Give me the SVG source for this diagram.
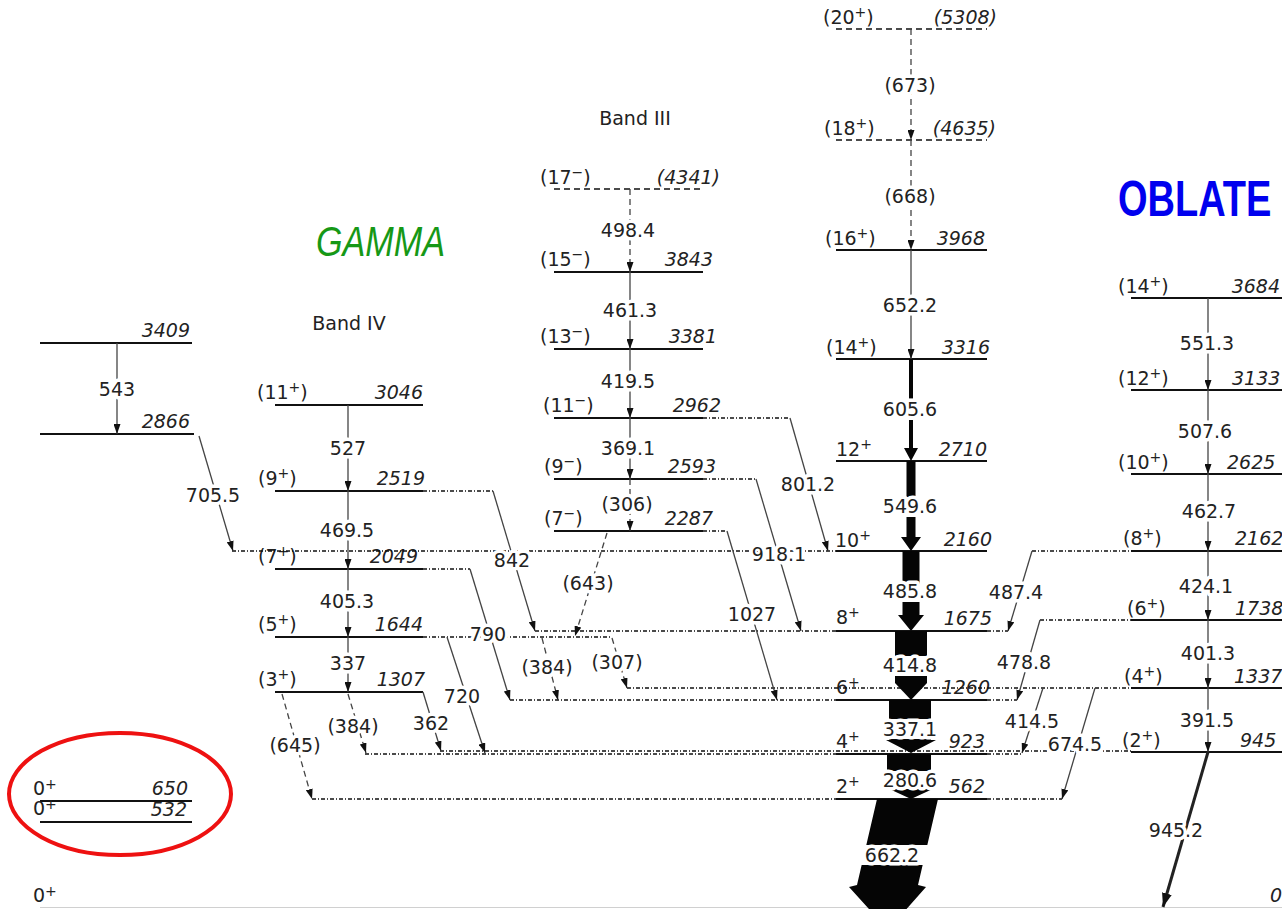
<svg xmlns="http://www.w3.org/2000/svg" width="1282" height="909" viewBox="0 0 1282 909">
<defs>
<style>
.t{font-family:"DejaVu Sans","Liberation Sans",sans-serif;font-size:19px;fill:#222}
.en{font-style:italic;text-anchor:end}
.ens{font-style:italic}
.sup{font-size:14px}
.tl{text-anchor:middle;paint-order:stroke;stroke:#fff;stroke-width:7px;stroke-linejoin:round}
.lv{stroke:#111;stroke-width:2;fill:none}
.lvd{stroke:#111;stroke-width:1.6;stroke-dasharray:6 4;fill:none}
.ex{stroke:#111;stroke-width:1.3;stroke-dasharray:4 2 1 2;fill:none}
.tr{stroke:#444;stroke-width:1.3;fill:none;marker-end:url(#ah)}
.da{stroke-dasharray:6 4}
.band{fill:#050505}
.wr{fill:#fff}
</style>
<marker id="ah" markerWidth="10" markerHeight="7" refX="10" refY="3.5" orient="auto" markerUnits="userSpaceOnUse"><path d="M0,0 L10,3.5 L0,7 z" fill="#111"/></marker>
<marker id="ah2" markerWidth="14" markerHeight="10" refX="14" refY="5" orient="auto" markerUnits="userSpaceOnUse"><path d="M0,0 L14,5 L0,10 z" fill="#111"/></marker>
</defs>
<rect width="1282" height="909" fill="#fff"/>

<!-- titles -->
<text x="316" y="256" font-family="Liberation Sans, sans-serif" font-size="42" font-style="italic" fill="#169816" textLength="129" lengthAdjust="spacingAndGlyphs">GAMMA</text>
<text transform="translate(1118,216) scale(1,1.3)" x="0" y="0" font-family="Liberation Sans, sans-serif" font-size="38" font-weight="bold" fill="#0000ee">OBLATE</text>
<text class="t" x="635" y="125" text-anchor="middle" font-size="18">Band III</text>
<text class="t" x="349" y="330" text-anchor="middle" font-size="18">Band IV</text>
<ellipse cx="120" cy="794" rx="111" ry="61" fill="none" stroke="#ee1111" stroke-width="4"/>

<!-- left levels -->
<g id="L3409"><line class="lv" x1="40" y1="343" x2="192" y2="343"/><text class="t en" x="190" y="337">3409</text></g>
<g id="L2866"><line class="lv" x1="40" y1="434" x2="194" y2="434"/><text class="t en" x="190" y="428">2866</text></g>
<g id="L650"><line class="lv" x1="40" y1="801" x2="192" y2="801"/><text class="t" x="33" y="795">0<tspan class="sup" dy="-6" font-size="16">+</tspan></text><text class="t en" x="188" y="795">650</text></g>
<g id="L532"><line class="lv" x1="40" y1="822" x2="192" y2="822"/><text class="t" x="33" y="815">0<tspan class="sup" dy="-6" font-size="16">+</tspan></text><text class="t en" x="187" y="816">532</text></g>
<g id="L0"><line x1="40" y1="907.5" x2="1282" y2="907.5" stroke="#d0d0d0" stroke-width="1"/><text class="t" x="33" y="902">0<tspan class="sup" dy="-6" font-size="16">+</tspan></text><text class="t ens" x="1270" y="902">0</text></g>

<!-- Band IV -->
<g id="B4_3046"><line class="lv" x1="275" y1="405" x2="423" y2="405"/><text class="t" x="257" y="399">(11<tspan class="sup" dy="-7">+</tspan><tspan dy="7">)</tspan></text><text class="t en" x="423" y="399">3046</text></g>
<g id="B4_2519"><line class="lv" x1="275" y1="491" x2="423" y2="491"/><line class="ex" x1="423" y1="491" x2="493" y2="491"/><text class="t" x="258" y="485">(9<tspan class="sup" dy="-7">+</tspan><tspan dy="7">)</tspan></text><text class="t en" x="425" y="485">2519</text></g>
<g id="B4_2049"><line class="lv" x1="275" y1="569" x2="423" y2="569"/><line class="ex" x1="423" y1="569" x2="470" y2="569"/><text class="t" x="258" y="563">(7<tspan class="sup" dy="-7">+</tspan><tspan dy="7">)</tspan></text><text class="t en" x="418" y="563">2049</text></g>
<g id="B4_1644"><line class="lv" x1="275" y1="637" x2="423" y2="637"/><line class="ex" x1="423" y1="637" x2="612" y2="637"/><text class="t" x="258" y="631">(5<tspan class="sup" dy="-7">+</tspan><tspan dy="7">)</tspan></text><text class="t en" x="423" y="631">1644</text></g>
<g id="B4_1307"><line class="lv" x1="275" y1="692" x2="423" y2="692"/><text class="t" x="258" y="686">(3<tspan class="sup" dy="-7">+</tspan><tspan dy="7">)</tspan></text><text class="t en" x="425" y="686">1307</text></g>

<!-- Band III -->
<g id="B3_4341"><line class="lvd" x1="554" y1="189" x2="703" y2="189"/><text class="t" x="540" y="184">(17<tspan class="sup" dy="-7">−</tspan><tspan dy="7">)</tspan></text><text class="t en" x="720" y="184">(4341)</text></g>
<g id="B3_3843"><line class="lv" x1="554" y1="272" x2="703" y2="272"/><text class="t" x="540" y="266">(15<tspan class="sup" dy="-7">−</tspan><tspan dy="7">)</tspan></text><text class="t en" x="713" y="266">3843</text></g>
<g id="B3_3381"><line class="lv" x1="554" y1="349" x2="703" y2="349"/><text class="t" x="540" y="343">(13<tspan class="sup" dy="-7">−</tspan><tspan dy="7">)</tspan></text><text class="t en" x="717" y="343">3381</text></g>
<g id="B3_2962"><line class="lv" x1="554" y1="418" x2="703" y2="418"/><line class="ex" x1="703" y1="418" x2="790" y2="418"/><text class="t" x="543" y="412">(11<tspan class="sup" dy="-7">−</tspan><tspan dy="7">)</tspan></text><text class="t en" x="721" y="412">2962</text></g>
<g id="B3_2593"><line class="lv" x1="554" y1="479" x2="703" y2="479"/><line class="ex" x1="703" y1="479" x2="756" y2="479"/><text class="t" x="544" y="473">(9<tspan class="sup" dy="-7">−</tspan><tspan dy="7">)</tspan></text><text class="t en" x="716" y="473">2593</text></g>
<g id="B3_2287"><line class="lv" x1="554" y1="531" x2="703" y2="531"/><line class="ex" x1="703" y1="531" x2="727" y2="531"/><text class="t" x="544" y="525">(7<tspan class="sup" dy="-7">−</tspan><tspan dy="7">)</tspan></text><text class="t en" x="713" y="525">2287</text></g>

<!-- Main (yrast) band -->
<g id="M5308"><line class="lvd" x1="836" y1="29" x2="987" y2="29"/><text class="t" x="823" y="24">(20<tspan class="sup" dy="-7">+</tspan><tspan dy="7">)</tspan></text><text class="t en" x="997" y="24">(5308)</text></g>
<g id="M4635"><line class="lvd" x1="836" y1="140" x2="987" y2="140"/><text class="t" x="824" y="135">(18<tspan class="sup" dy="-7">+</tspan><tspan dy="7">)</tspan></text><text class="t en" x="996" y="135">(4635)</text></g>
<g id="M3968"><line class="lv" x1="836" y1="250" x2="987" y2="250"/><text class="t" x="825" y="245">(16<tspan class="sup" dy="-7">+</tspan><tspan dy="7">)</tspan></text><text class="t en" x="985" y="245">3968</text></g>
<g id="M3316"><line class="lv" x1="836" y1="359" x2="987" y2="359"/><text class="t" x="826" y="354">(14<tspan class="sup" dy="-7">+</tspan><tspan dy="7">)</tspan></text><text class="t en" x="990" y="354">3316</text></g>
<g id="M2710"><line class="lv" x1="836" y1="461" x2="987" y2="461"/><text class="t" x="836" y="456">12<tspan class="sup" dy="-7">+</tspan></text><text class="t en" x="987" y="456">2710</text></g>
<g id="M2160"><line class="lv" x1="836" y1="551" x2="987" y2="551"/><line class="ex" x1="232" y1="551" x2="836" y2="551"/><text class="t" x="835" y="547">10<tspan class="sup" dy="-7">+</tspan></text><text class="t en" x="992" y="546">2160</text></g>
<g id="M1675"><line class="lv" x1="836" y1="631" x2="987" y2="631"/><line class="ex" x1="535" y1="631" x2="836" y2="631"/><line class="ex" x1="987" y1="631" x2="1008" y2="631"/><text class="t" x="836" y="624">8<tspan class="sup" dy="-7">+</tspan></text><text class="t en" x="992" y="625">1675</text></g>
<g id="M1260"><line class="lv" x1="836" y1="700" x2="987" y2="700"/><line class="ex" x1="510" y1="700" x2="836" y2="700"/><line class="ex" x1="987" y1="700" x2="1017" y2="700"/><text class="t" x="836" y="694">6<tspan class="sup" dy="-7">+</tspan></text><text class="t en" x="990" y="694">1260</text></g>
<g id="M923"><line class="lv" x1="836" y1="754" x2="987" y2="754"/><line class="ex" x1="365" y1="754" x2="836" y2="754"/><line class="ex" x1="987" y1="754" x2="1022" y2="754"/><text class="t" x="836" y="748">4<tspan class="sup" dy="-7">+</tspan></text><text class="t en" x="985" y="748">923</text></g>
<g id="M562"><line class="lv" x1="836" y1="799" x2="987" y2="799"/><line class="ex" x1="312" y1="799" x2="836" y2="799"/><line class="ex" x1="987" y1="799" x2="1062" y2="799"/><text class="t" x="836" y="793">2<tspan class="sup" dy="-7">+</tspan></text><text class="t en" x="985" y="793">562</text></g>

<!-- Oblate band -->
<g id="O3684"><line class="lv" x1="1131" y1="298" x2="1282" y2="298"/><text class="t" x="1118" y="293">(14<tspan class="sup" dy="-7">+</tspan><tspan dy="7">)</tspan></text><text class="t en" x="1280" y="293">3684</text></g>
<g id="O3133"><line class="lv" x1="1131" y1="390" x2="1282" y2="390"/><text class="t" x="1118" y="385">(12<tspan class="sup" dy="-7">+</tspan><tspan dy="7">)</tspan></text><text class="t ens" x="1232" y="385">3133</text></g>
<g id="O2625"><line class="lv" x1="1131" y1="474" x2="1282" y2="474"/><text class="t" x="1118" y="469">(10<tspan class="sup" dy="-7">+</tspan><tspan dy="7">)</tspan></text><text class="t ens" x="1227" y="469">2625</text></g>
<g id="O2162"><line class="lv" x1="1131" y1="551" x2="1282" y2="551"/><line class="ex" x1="1032" y1="551" x2="1131" y2="551"/><text class="t" x="1123" y="545">(8<tspan class="sup" dy="-7">+</tspan><tspan dy="7">)</tspan></text><text class="t ens" x="1235" y="545">2162</text></g>
<g id="O1738"><line class="lv" x1="1131" y1="620" x2="1282" y2="620"/><line class="ex" x1="1040" y1="620" x2="1131" y2="620"/><text class="t" x="1127" y="615">(6<tspan class="sup" dy="-7">+</tspan><tspan dy="7">)</tspan></text><text class="t ens" x="1235" y="615">1738</text></g>
<g id="O1337"><line class="lv" x1="1131" y1="688" x2="1282" y2="688"/><line class="ex" x1="627" y1="688" x2="1131" y2="688"/><text class="t" x="1124" y="683">(4<tspan class="sup" dy="-7">+</tspan><tspan dy="7">)</tspan></text><text class="t ens" x="1234" y="683">1337</text></g>
<g id="O945"><line class="lv" x1="1131" y1="752" x2="1282" y2="752"/><line class="ex" x1="440" y1="751" x2="1131" y2="751"/><text class="t" x="1122" y="747">(2<tspan class="sup" dy="-7">+</tspan><tspan dy="7">)</tspan></text><text class="t ens" x="1240" y="747">945</text></g>

<!-- transitions -->
<g id="connectors">
<line class="tr" x1="117" y1="343" x2="117" y2="434" stroke="#555"/>
<line class="tr" x1="199" y1="436" x2="233" y2="551"/>
<line class="tr" x1="348" y1="405" x2="348" y2="491" stroke="#999"/>
<line class="tr" x1="348" y1="491" x2="348" y2="569" stroke="#333" stroke-width="1.6"/>
<line class="tr" x1="348" y1="569" x2="348" y2="637" stroke="#666"/>
<line class="tr" x1="348" y1="637" x2="348" y2="692" stroke="#888"/>
<line class="tr" x1="493" y1="491" x2="535" y2="631"/>
<line class="tr" x1="470" y1="569" x2="510" y2="700"/>
<line class="tr" x1="447" y1="637" x2="485" y2="753" stroke="#222" stroke-width="1.6"/>
<line class="tr" x1="423" y1="692" x2="441" y2="751"/>
<line class="tr da" x1="348" y1="694" x2="366" y2="753" stroke="#666"/>
<line class="tr da" x1="282" y1="694" x2="312" y2="799" stroke="#555"/>
<line class="tr da" x1="630" y1="189" x2="630" y2="272" stroke="#333"/>
<line class="tr" x1="630" y1="272" x2="630" y2="349" stroke="#777"/>
<line class="tr" x1="630" y1="349" x2="630" y2="418" stroke="#777"/>
<line class="tr" x1="630" y1="418" x2="630" y2="479" stroke="#444"/>
<line class="tr da" x1="630" y1="479" x2="630" y2="531" stroke="#333"/>
<line class="tr da" x1="607" y1="533" x2="575" y2="636" stroke="#aaa"/>
<line class="tr" x1="790" y1="418" x2="828" y2="551"/>
<line class="tr" x1="756" y1="479" x2="801" y2="631"/>
<line class="tr" x1="727" y1="531" x2="777" y2="700" stroke="#222" stroke-width="1.5"/>
<line class="tr da" x1="542" y1="638" x2="558" y2="700" stroke="#aaa"/>
<line class="tr da" x1="612" y1="638" x2="627" y2="688" stroke="#aaa"/>
<line class="tr da" x1="911" y1="29" x2="911" y2="140" stroke="#222"/>
<line class="tr da" x1="911" y1="140" x2="911" y2="250" stroke="#222"/>
<line class="tr" x1="911" y1="250" x2="911" y2="359" stroke="#555" stroke-width="2.5"/>
<polygon class="band" points="909,359 913,359 913,448 918,448 911,461 904,448 909,448"/>
<polygon class="band" points="906.5,461 915.5,461 915.5,537 921,537 911,551 901,537 906.5,537"/>
<polygon class="band" points="902.5,551 919.5,551 919.5,615 924,615 911,631 898,615 902.5,615"/>
<polygon class="band" points="895,631 927,631 927,683 911,700 895,683"/>
<polygon class="band" points="889,700 931,700 931,740 936,740 911,753 886,740 889,740"/>
<polygon class="band" points="887,754 931,754 931,787 937,787 911,799 885,787 887,787"/>
<polygon class="band" points="877,799 938,799 918,885 926,887 888,930 849,887 857,885"/>
<line class="tr" x1="1208" y1="298" x2="1208" y2="390" stroke="#bbb" stroke-width="3"/>
<line class="tr" x1="1208" y1="390" x2="1208" y2="474" stroke="#777" stroke-width="2.5"/>
<line class="tr" x1="1208" y1="474" x2="1208" y2="551" stroke="#444" stroke-width="2.5"/>
<line class="tr" x1="1208" y1="551" x2="1208" y2="620" stroke="#555" stroke-width="3"/>
<line class="tr" x1="1208" y1="620" x2="1208" y2="688" stroke="#555" stroke-width="3"/>
<line class="tr" x1="1208" y1="688" x2="1208" y2="752" stroke="#555" stroke-width="3"/>
<line x1="1208" y1="752" x2="1163" y2="907" stroke="#222" stroke-width="3" marker-end="url(#ah2)"/>
<line class="tr" x1="1032" y1="551" x2="1008" y2="631" stroke="#222" stroke-width="1.6"/>
<line class="tr" x1="1040" y1="620" x2="1017" y2="700" stroke="#222" stroke-width="2"/>
<line class="tr" x1="1043" y1="688" x2="1022" y2="753" stroke="#222" stroke-width="1.6"/>
<line class="tr" x1="1095" y1="688" x2="1062" y2="799" stroke="#222" stroke-width="1.4"/>

<!-- white gaps for band labels -->
<rect class="wr" x="880" y="400" width="62" height="20"/>
<rect class="wr" x="880" y="497" width="62" height="20"/>
<rect class="wr" x="880" y="584" width="62" height="18"/>
<rect class="wr" x="878" y="656" width="66" height="20"/>
<rect class="wr" x="876" y="719" width="70" height="20"/>
<rect class="wr" x="876" y="771" width="70" height="18"/>
<rect class="wr" x="858" y="845" width="70" height="20"/>

<!-- transition labels -->
<text class="t tl" x="117" y="396">543</text>
<text class="t tl" x="213" y="502">705.5</text>
<text class="t tl" x="348" y="455">527</text>
<text class="t tl" x="347" y="537">469.5</text>
<text class="t tl" x="347" y="608">405.3</text>
<text class="t tl" x="348" y="670">337</text>
<text class="t tl" x="512" y="567">842</text>
<text class="t tl" x="488" y="641">790</text>
<text class="t tl" x="462" y="703">720</text>
<text class="t tl" x="431" y="730">362</text>
<text class="t tl" x="353" y="733">(384)</text>
<text class="t tl" x="295" y="752">(645)</text>
<text class="t tl" x="628" y="237">498.4</text>
<text class="t tl" x="630" y="317">461.3</text>
<text class="t tl" x="628" y="388">419.5</text>
<text class="t tl" x="628" y="455">369.1</text>
<text class="t tl" x="627" y="511">(306)</text>
<text class="t tl" x="588" y="590">(643)</text>
<text class="t tl" x="808" y="491">801.2</text>
<text class="t tl" x="779" y="561">918.1</text>
<text class="t tl" x="752" y="621">1027</text>
<text class="t tl" x="547" y="674">(384)</text>
<text class="t tl" x="617" y="669">(307)</text>
<text class="t tl" x="910" y="92">(673)</text>
<text class="t tl" x="910" y="203">(668)</text>
<text class="t tl" x="910" y="312">652.2</text>
<text class="t tl" x="910" y="416">605.6</text>
<text class="t tl" x="910" y="513">549.6</text>
<text class="t tl" x="910" y="598">485.8</text>
<text class="t tl" x="910" y="672">414.8</text>
<text class="t tl" x="910" y="736">337.1</text>
<text class="t tl" x="910" y="787">280.6</text>
<text class="t tl" x="892" y="862">662.2</text>
<text class="t tl" x="1207" y="350">551.3</text>
<text class="t tl" x="1205" y="438">507.6</text>
<text class="t tl" x="1209" y="518">462.7</text>
<text class="t tl" x="1206" y="593">424.1</text>
<text class="t tl" x="1208" y="660">401.3</text>
<text class="t tl" x="1207" y="727">391.5</text>
<text class="t tl" x="1176" y="837">945.2</text>
<text class="t tl" x="1016" y="599">487.4</text>
<text class="t tl" x="1024" y="669">478.8</text>
<text class="t tl" x="1032" y="728">414.5</text>
<text class="t tl" x="1075" y="751">674.5</text>
</g>
</svg>
